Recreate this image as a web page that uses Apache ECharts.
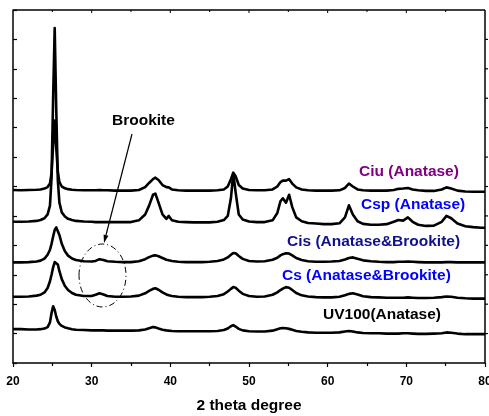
<!DOCTYPE html>
<html>
<head>
<meta charset="utf-8">
<script src="https://cdn.jsdelivr.net/npm/echarts@6/dist/echarts.min.js"></script>
<style>
  html, body { margin: 0; padding: 0; background: #fff; }
  #main { width: 489px; height: 416px; }
</style>
</head>
<body>
<div id="main"></div>
<script>
// 2 theta values shared by all patterns (denser near the peaks)
var angles = [
  20, 21, 22, 23, 23.5, 24, 24.4, 24.7, 24.9, 25.1,
  25.3, 25.5, 25.7, 25.9, 26.2, 26.6, 27, 27.5, 28, 29,
  30, 30.5, 31, 31.5, 32, 33, 34, 35, 36, 36.8,
  37.3, 37.8, 38.1, 38.5, 39, 39.5, 39.8, 40.2, 41, 42,
  43, 44, 45, 46, 46.8, 47.3, 47.7, 48, 48.3, 48.7,
  49.2, 50, 51, 52, 53, 53.6, 54, 54.3, 54.7, 55.1,
  55.5, 56, 56.7, 57.5, 58.5, 59.5, 60.5, 61.5, 62.2, 62.7,
  63.2, 63.8, 64.5, 65.5, 66.5, 67.5, 68.4, 69, 69.6, 70.2,
  70.8, 71.5, 72.5, 73.5, 74.5, 75.1, 75.7, 76.5, 77.5, 78.5,
  79.5, 80
];

// intensities (already offset so the patterns stack)
var ciu = [
  5.88, 5.87, 5.88, 5.89, 5.90, 5.93, 5.98, 6.10, 6.45, 7.40,
  8.24, 7.30, 6.50, 6.15, 6.00, 5.94, 5.91, 5.89, 5.88, 5.87,
  5.87, 5.87, 5.88, 5.87, 5.87, 5.86, 5.86, 5.86, 5.88, 5.98,
  6.12, 6.25, 6.30, 6.22, 6.05, 5.98, 5.97, 5.90, 5.87, 5.86,
  5.86, 5.86, 5.86, 5.87, 5.90, 6.00, 6.25, 6.47, 6.35, 6.05,
  5.93, 5.88, 5.87, 5.87, 5.90, 6.00, 6.15, 6.20, 6.20, 6.25,
  6.10, 5.97, 5.90, 5.87, 5.86, 5.86, 5.86, 5.87, 5.95, 6.10,
  6.00, 5.90, 5.87, 5.86, 5.86, 5.86, 5.88, 5.92, 5.93, 5.95,
  5.90, 5.87, 5.85, 5.85, 5.90, 5.97, 5.93, 5.86, 5.83, 5.82,
  5.82, 5.82
];
var csp = [
  4.80, 4.80, 4.81, 4.83, 4.86, 4.92, 5.05, 5.35, 6.30, 9.00,
  11.39, 8.60, 6.20, 5.45, 5.12, 4.98, 4.90, 4.86, 4.83, 4.81,
  4.80, 4.79, 4.79, 4.79, 4.79, 4.79, 4.79, 4.79, 4.85, 5.05,
  5.35, 5.72, 5.76, 5.45, 5.05, 4.90, 5.00, 4.85, 4.80, 4.79,
  4.78, 4.78, 4.78, 4.80, 4.86, 5.00, 5.60, 6.45, 5.80, 5.05,
  4.88, 4.81, 4.79, 4.79, 4.85, 5.10, 5.50, 5.60, 5.45, 5.72,
  5.30, 4.95, 4.82, 4.76, 4.74, 4.72, 4.72, 4.75, 4.95, 5.36,
  5.05, 4.82, 4.73, 4.70, 4.70, 4.72, 4.80, 4.86, 4.84, 4.95,
  4.80, 4.70, 4.66, 4.67, 4.80, 5.00, 4.92, 4.74, 4.65, 4.62,
  4.60, 4.60
];
var cis = [
  3.42, 3.42, 3.43, 3.45, 3.48, 3.55, 3.68, 3.85, 4.05, 4.30,
  4.52, 4.61, 4.55, 4.35, 4.05, 3.80, 3.65, 3.55, 3.50, 3.46,
  3.45, 3.47, 3.53, 3.50, 3.46, 3.44, 3.43, 3.43, 3.46, 3.53,
  3.60, 3.65, 3.66, 3.63, 3.57, 3.51, 3.49, 3.47, 3.44, 3.43,
  3.43, 3.43, 3.44, 3.47, 3.52, 3.59, 3.68, 3.74, 3.73, 3.64,
  3.54, 3.47, 3.45, 3.46, 3.51, 3.58, 3.66, 3.70, 3.73, 3.72,
  3.66, 3.57, 3.50, 3.46, 3.44, 3.44, 3.45, 3.47, 3.52, 3.57,
  3.59, 3.54, 3.49, 3.46, 3.44, 3.43, 3.43, 3.44, 3.44, 3.45,
  3.44, 3.43, 3.42, 3.42, 3.42, 3.43, 3.43, 3.42, 3.42, 3.42,
  3.42, 3.42
];
var cs = [
  2.25, 2.25, 2.26, 2.29, 2.32, 2.40, 2.55, 2.78, 3.00, 3.25,
  3.43, 3.46, 3.35, 3.12, 2.85, 2.62, 2.48, 2.38, 2.32, 2.28,
  2.28, 2.32, 2.37, 2.33, 2.28, 2.25, 2.25, 2.26, 2.29, 2.37,
  2.45, 2.52, 2.54, 2.49, 2.40, 2.33, 2.30, 2.28, 2.25, 2.24,
  2.24, 2.24, 2.25, 2.28, 2.34, 2.43, 2.52, 2.58, 2.56, 2.46,
  2.35, 2.28, 2.25, 2.26, 2.32, 2.40, 2.48, 2.53, 2.58, 2.56,
  2.48, 2.38, 2.30, 2.26, 2.24, 2.23, 2.23, 2.25, 2.30, 2.35,
  2.37, 2.33, 2.27, 2.24, 2.23, 2.22, 2.22, 2.22, 2.22, 2.23,
  2.22, 2.21, 2.21, 2.22, 2.24, 2.26, 2.25, 2.22, 2.20, 2.19,
  2.19, 2.19
];
var uv100 = [
  1.15, 1.15, 1.14, 1.14, 1.15, 1.17, 1.22, 1.38, 1.70, 1.93,
  1.80, 1.58, 1.42, 1.33, 1.26, 1.21, 1.18, 1.15, 1.13, 1.12,
  1.11, 1.11, 1.11, 1.11, 1.10, 1.10, 1.10, 1.10, 1.11, 1.14,
  1.18, 1.22, 1.21, 1.17, 1.13, 1.11, 1.10, 1.09, 1.08, 1.08,
  1.08, 1.08, 1.08, 1.09, 1.12, 1.17, 1.25, 1.29, 1.24, 1.16,
  1.11, 1.08, 1.07, 1.07, 1.10, 1.15, 1.18, 1.19, 1.18, 1.16,
  1.13, 1.09, 1.06, 1.04, 1.03, 1.03, 1.03, 1.04, 1.07, 1.09,
  1.07, 1.04, 1.02, 1.01, 1.01, 1.00, 1.00, 1.00, 1.01, 1.01,
  1.00, 0.99, 0.99, 1.00, 1.01, 1.04, 1.03, 1.00, 0.98, 0.98,
  0.98, 0.98
];

var xTicks = [20, 30, 40, 50, 60, 70, 80];
var yRange = [0, 12];
var seriesNames = ['Ciu', 'Csp', 'Cis', 'Cs', 'UV100'];
var seriesValues = [ciu, csp, cis, cs, uv100];

var FONT = '"Liberation Sans", Arial, sans-serif';

function pairs(values) {
  return angles.map(function (a, i) { return [a, values[i]]; });
}

var chart = echarts.init(document.getElementById('main'));

// plot box
var G = { left: 13, right: 4, top: 10, bottom: 53 };
var boxW = 489 - G.left - G.right;
var boxH = 416 - G.top - G.bottom;

// small ticks on the top and right frame edges
var frame = [];
var xSpan = xTicks[xTicks.length - 1] - xTicks[0];
for (var v = xTicks[0] + 5; v < xTicks[xTicks.length - 1]; v += 5) {
  var px = G.left + (v - xTicks[0]) / xSpan * boxW;
  frame.push({ type: 'line', silent: true, z: 100,
    shape: { x1: px, y1: G.top, x2: px, y2: G.top + (v % 10 === 0 ? 3 : 2) },
    style: { stroke: '#000', lineWidth: 1 } });
}
for (var w = yRange[0] + 1; w < yRange[1]; w++) {
  var py = G.top + boxH - (w - yRange[0]) / (yRange[1] - yRange[0]) * boxH;
  frame.push({ type: 'line', silent: true, z: 100,
    shape: { x1: G.left + boxW, y1: py, x2: G.left + boxW + 3, y2: py },
    style: { stroke: '#000', lineWidth: 1.2 } });
}

var option = {
  animation: false,
  backgroundColor: '#fff',
  grid: { left: G.left, right: G.right, top: G.top, bottom: G.bottom, outerBoundsMode: 'none' },
  xAxis: {
    type: 'value',
    min: xTicks[0],
    max: xTicks[xTicks.length - 1],
    interval: 10,
    name: '2 theta degree',
    nameLocation: 'middle',
    nameGap: 35,
    nameTextStyle: { fontFamily: FONT, fontWeight: 'bold', fontSize: 15.5, color: '#000' },
    axisLine: { show: true, onZero: false, lineStyle: { color: '#000', width: 1.5 } },
    axisTick: { show: true, inside: false, length: 4, lineStyle: { color: '#000', width: 1.2 } },
    minorTick: { show: true, splitNumber: 2, length: 3, lineStyle: { color: '#000', width: 1.2 } },
    axisLabel: { fontFamily: FONT, fontWeight: 'bold', fontSize: 12, color: '#000', margin: 13 },
    splitLine: { show: false }
  },
  yAxis: {
    type: 'value',
    min: yRange[0],
    max: yRange[1],
    interval: 1,
    axisLine: { show: true, onZero: false, lineStyle: { color: '#000', width: 1.5 } },
    axisTick: { show: true, inside: true, length: 4, lineStyle: { color: '#000', width: 1.2 } },
    axisLabel: { show: false },
    splitLine: { show: false }
  },
  series: seriesNames.map(function (name, k) {
    var s = {
      name: name,
      type: 'line',
      data: pairs(seriesValues[k]),
      showSymbol: false,
      smooth: false,
      clip: false,
      lineStyle: { color: '#000', width: 2.6, join: 'round' }
    };
    if (k === 0) {
      // top and right edges of the frame, placed on the axis extremes
      s.markLine = {
        silent: true,
        symbol: 'none',
        label: { show: false },
        lineStyle: { color: '#000', width: 1.5, type: 'solid' },
        data: [{ xAxis: xTicks[xTicks.length - 1] }, { yAxis: yRange[1] }]
      };
    }
    return s;
  }),
  graphic: [
    // pattern labels
    { type: 'text', left: 359, top: 164, style: { text: 'Ciu (Anatase)', fill: '#800080', font: 'bold 15.5px ' + FONT } },
    { type: 'text', left: 361, top: 197, style: { text: 'Csp (Anatase)', fill: '#0000ff', font: 'bold 15.5px ' + FONT } },
    { type: 'text', left: 287, top: 234, style: { text: 'Cis (Anatase&Brookite)', fill: '#10108c', font: 'bold 15.5px ' + FONT } },
    { type: 'text', left: 282, top: 268, style: { text: 'Cs (Anatase&Brookite)', fill: '#0000ff', font: 'bold 15.5px ' + FONT } },
    { type: 'text', left: 323, top: 307, style: { text: 'UV100(Anatase)', fill: '#000', font: 'bold 15.5px ' + FONT } },
    // brookite annotation
    { type: 'text', left: 112, top: 113, style: { text: 'Brookite', fill: '#000', font: 'bold 15.5px ' + FONT } },
    { type: 'line', shape: { x1: 132, y1: 134, x2: 106, y2: 235 }, style: { stroke: '#000', lineWidth: 1.2 } },
    { type: 'polygon', shape: { points: [[104, 243], [108.4, 235.8], [103.6, 234.6]] }, style: { fill: '#000' } },
    { type: 'ellipse', shape: { cx: 102.5, cy: 275.5, rx: 23.5, ry: 31.5 },
      style: { fill: null, stroke: '#000', lineWidth: 1, lineDash: [6, 3, 1, 3] } }
  ].concat(frame)
};

chart.setOption(option);
</script>
</body>
</html>
